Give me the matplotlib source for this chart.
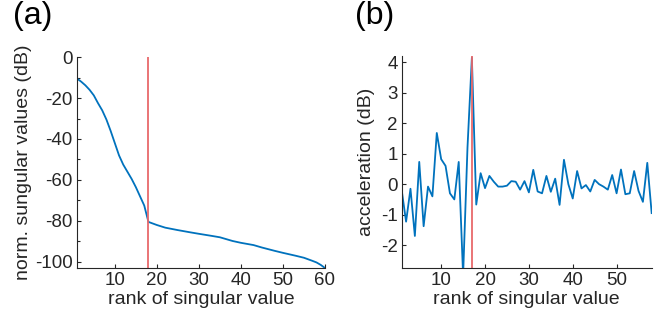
import numpy as np
import matplotlib
matplotlib.use('Agg')
from matplotlib import pyplot as plt
from matplotlib.ticker import MultipleLocator

# normalised singular values (dB), rank 1..60 (read at selected ranks)
sv_rank = [1, 2, 3, 4, 5, 6, 7, 8, 9, 10, 11, 12, 13, 14, 15, 16, 17, 18,
           20, 22, 25, 28, 30, 33, 35, 37, 38, 40, 43, 45, 48, 50, 53, 55,
           57, 58, 59, 60]
sv_db = [-10.5, -12.0, -13.8, -16.0, -18.7, -22.5, -26.0, -30.5, -36.0, -42.0,
         -48.0, -52.5, -56.0, -59.5, -63.5, -68.0, -72.5, -80.5,
         -82.0, -83.3, -84.5, -85.6, -86.3, -87.3, -88.0, -89.2, -89.8, -90.7,
         -91.8, -93.0, -94.6, -95.6, -97.0, -98.0, -99.5, -100.3, -101.5, -103.0]

# acceleration (dB), rank 1..58
acc = [-0.2, -1.23, -0.15, -1.7, 0.73, -1.38, -0.08, -0.4, 1.68, 0.82,
       0.6, -0.3, -0.5, 0.73, -3.0, 1.2, 4.15, -0.67, 0.36, -0.13,
       0.27, 0.08, -0.08, -0.08, -0.05, 0.1, 0.08, -0.18, 0.1, -0.27,
       0.47, -0.24, -0.3, 0.27, -0.25, 0.18, -0.68, 0.8, 0.0, -0.47,
       0.43, -0.14, -0.03, -0.24, 0.14, 0.0, -0.08, -0.18, 0.3, -0.3,
       0.48, -0.33, -0.3, 0.43, -0.22, -0.58, 0.7, -0.95]
acc_rank = np.arange(1, len(acc) + 1)

cut_a = 18
cut_b = 17

blue = '#0072BD'
red = '#E8696B'
dark = '#262626'

plt.rcParams['font.family'] = ['Liberation Sans', 'DejaVu Sans']
plt.rcParams['axes.unicode_minus'] = False

fig = plt.figure(figsize=(6.62, 3.22), dpi=100)
ax1 = fig.add_axes([0.1163, 0.1677, 0.3746, 0.655])
ax2 = fig.add_axes([0.6068, 0.1677, 0.3776, 0.658])

for ax in (ax1, ax2):
    for s in ('top', 'right'):
        ax.spines[s].set_visible(False)
    for s in ('left', 'bottom'):
        ax.spines[s].set_color(dark)
        ax.spines[s].set_linewidth(0.8)
    ax.tick_params(direction='in', length=3, width=0.8, colors=dark,
                   labelsize=13.5, which='both', pad=3)
    ax.tick_params(which='minor', length=2)
    ax.set_xlabel('rank of singular value', fontsize=14, color=dark,
                  labelpad=1)

ax1.plot(sv_rank, sv_db, color=blue, lw=1.3)
ax1.axvline(cut_a, color=red, lw=1.3)
ax1.set_xlim(1, 60)
ax1.set_ylim(-103, 0)
ax1.xaxis.set_major_locator(MultipleLocator(10))
ax1.yaxis.set_major_locator(MultipleLocator(20))
ax1.yaxis.set_minor_locator(MultipleLocator(10))
ax1.set_ylabel('norm. sungular values (dB)', fontsize=14, color=dark,
               labelpad=2)

ax2.plot(acc_rank, acc, color=blue, lw=1.3)
ax2.axvline(cut_b, color=red, lw=1.3)
ax2.set_xlim(1, 58)
ax2.set_ylim(-2.75, 4.2)
ax2.xaxis.set_major_locator(MultipleLocator(10))
ax2.yaxis.set_major_locator(MultipleLocator(1))
ax2.set_ylabel('acceleration (dB)', fontsize=14, color=dark, labelpad=4)

fig.text(0.02, 0.998, '(a)', fontsize=23, va='top', ha='left', color='black')
fig.text(0.536, 0.998, '(b)', fontsize=23, va='top', ha='left', color='black')

fig.savefig('out.png', dpi=100)
